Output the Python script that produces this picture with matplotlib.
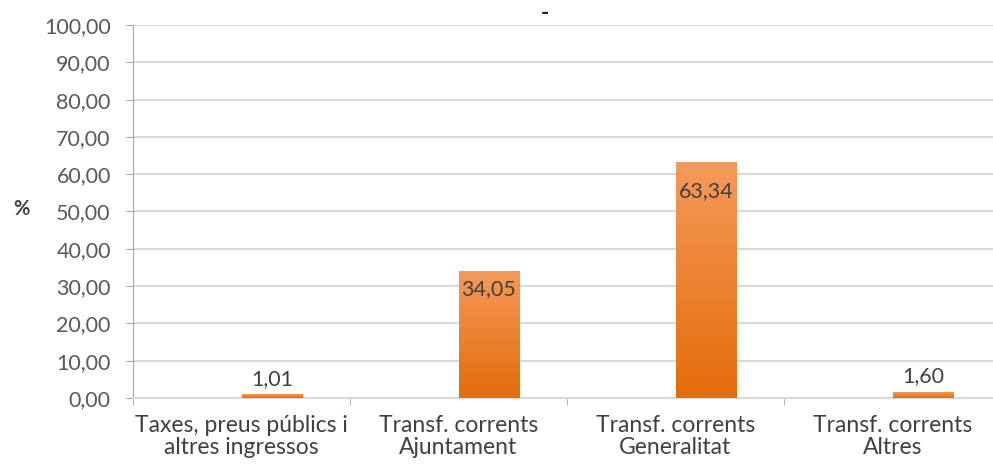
import numpy as np
import matplotlib
matplotlib.use("Agg")
import matplotlib.pyplot as plt
from matplotlib.colors import LinearSegmentedColormap

categories = ["Taxes, preus públics i\naltres ingressos",
              "Transf. corrents\nAjuntament",
              "Transf. corrents\nGeneralitat",
              "Transf. corrents\nAltres"]
values = [1.01, 34.05, 63.34, 1.60]
value_labels = ["1,01", "34,05", "63,34", "1,60"]
y_ticks = [0, 10, 20, 30, 40, 50, 60, 70, 80, 90, 100]

# label offsets in points (positive = above bar top)
label_offsets = [4, -6, -14, 4]

plt.rcParams['font.family'] = ['Lato', 'DejaVu Sans']

fig = plt.figure(figsize=(9.93, 4.69), dpi=100)
ax = fig.add_axes([133 / 993, 71 / 469, 868 / 993, 373 / 469])

x = np.arange(len(categories))
bars = ax.bar(x, values, width=0.28, align='edge', color='none', edgecolor='none', zorder=3)

# gradient fill for each bar, lighter at the top
cmap = LinearSegmentedColormap.from_list("org", ["#E46C0A", "#F59A5A"])
grad = np.linspace(0, 1, 256).reshape(-1, 1)
for b in bars:
    x0, y0 = b.get_x(), b.get_y()
    w, h = b.get_width(), b.get_height()
    im = ax.imshow(grad, cmap=cmap, aspect='auto', origin='lower',
                   extent=[x0, x0 + w, y0, y0 + h], zorder=3)
    im.set_clip_path(b)

fs = 15.5
ax.set_xlim(-0.5, 3.5)
ax.set_ylim(0, 100)
ax.set_yticks(y_ticks)
ax.set_yticklabels([f"{v:.2f}".replace(".", ",") for v in y_ticks],
                   fontsize=fs, color="#595959")
ax.set_xticks(x)
ax.set_xticklabels(categories, fontsize=16.5, color="#404040", linespacing=1.1)
ax.tick_params(axis='x', length=0, pad=12)
ax.set_xticks(np.arange(-0.5, 4.0, 1.0), minor=True)
ax.tick_params(axis='x', which='minor', length=5, color="#A6A6A6")
ax.tick_params(axis='y', length=5, color="#A6A6A6", pad=11)

ax.grid(axis='y', color="#D9D9D9", linewidth=1.5, zorder=0)
ax.set_axisbelow(True)
for s in ['top', 'right']:
    ax.spines[s].set_visible(False)
ax.spines['left'].set_color("#A6A6A6")
ax.spines['bottom'].set_color("#D9D9D9")
ax.spines['bottom'].set_linewidth(1.5)

fig.text(21 / 993, 1 - 209 / 469, "%", ha='center', va='center', fontsize=fs - 1,
         fontweight='bold', color="#404040")

for b, v, lab, off in zip(bars, values, value_labels, label_offsets):
    cx = b.get_x() + b.get_width() / 2
    ax.annotate(lab, (cx, v), xytext=(0, off), textcoords='offset points',
                ha='center', va='bottom' if off > 0 else 'top',
                fontsize=fs, color="#404040", zorder=4)

fig.text(545 / 993, 1 - 14 / 469, "-", ha='center', va='center', fontsize=16,
         fontweight='bold', color="#202020")

fig.savefig("out.png", dpi=100)
